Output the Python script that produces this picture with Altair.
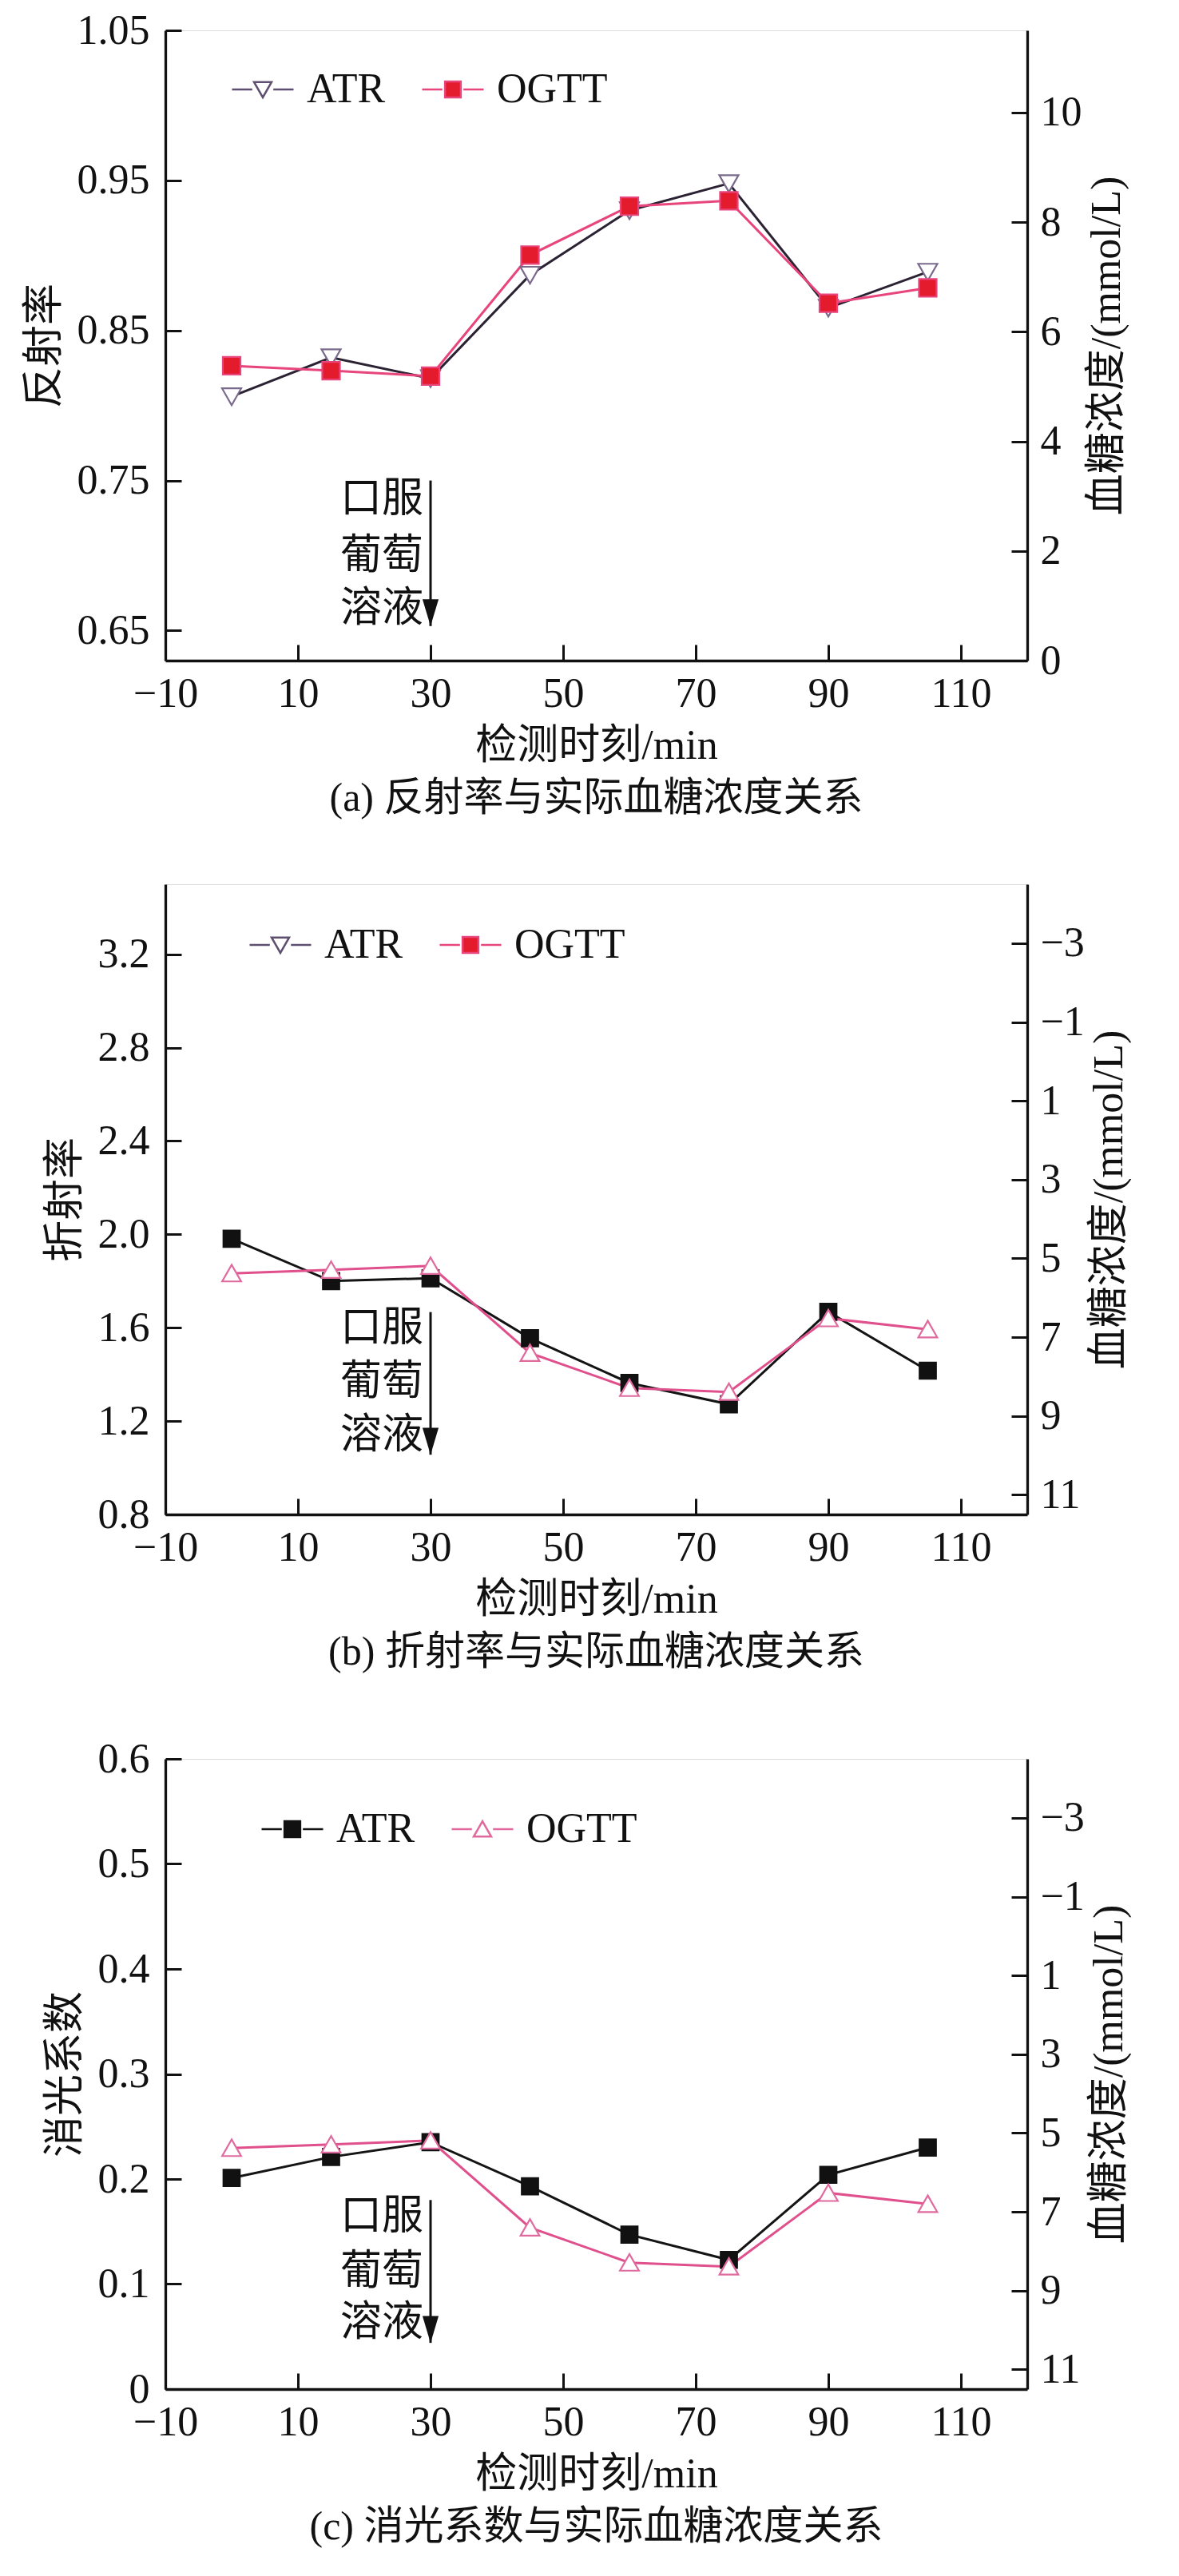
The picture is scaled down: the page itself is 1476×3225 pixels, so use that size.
import altair as alt
import pandas as pd

# ---------------- data ----------------
time = [0, 15, 30, 45, 60, 75, 90, 105]
atr_reflect = [0.806, 0.832, 0.818, 0.887, 0.930, 0.948, 0.865, 0.889]
atr_refract = [1.981, 1.800, 1.812, 1.555, 1.363, 1.272, 1.668, 1.416]
atr_extinct = [0.201, 0.221, 0.235, 0.193, 0.147, 0.123, 0.204, 0.230]
ogtt = [5.38, 5.29, 5.19, 7.40, 8.29, 8.39, 6.52, 6.80]

x_domain = [-10, 120]
x_ticks = [-10, 10, 30, 50, 70, 90, 110]

a_left_domain = [0.63, 1.05]
a_left_ticks = [0.65, 0.75, 0.85, 0.95, 1.05]
a_right_domain = [0, 11.5]
a_right_ticks = [0, 2, 4, 6, 8, 10]

b_left_domain = [0.8, 3.5]
b_left_ticks = [0.8, 1.2, 1.6, 2.0, 2.4, 2.8, 3.2]
c_left_domain = [0, 0.6]
c_left_ticks = [0, 0.1, 0.2, 0.3, 0.4, 0.5, 0.6]
bc_right_domain = [-4.5, 11.5]
bc_right_ticks = [-3, -1, 1, 3, 5, 7, 9, 11]

ann_text = ["口服", "葡萄", "溶液"]
a_ann_y = [0.7375, 0.700, 0.6646]
a_arrow = [0.750, 0.653]
b_ann_y = [1.596, 1.368, 1.140]
b_arrow = [1.667, 1.056]
c_ann_y = [0.164, 0.112, 0.063]
c_arrow = [0.180, 0.044]

series = ["ATR", "OGTT"]
captions = ["(a) 反射率与实际血糖浓度关系", "(b) 折射率与实际血糖浓度关系", "(c) 消光系数与实际血糖浓度关系"]
left_titles = ["反射率", "折射率", "消光系数"]
right_title = "血糖浓度/(mmol/L)"
x_title = "检测时刻/min"

# ---------------- style ----------------
FONT = "Liberation Serif, Noto Sans CJK SC"
W, H = 1079, 789
INK = "#111111"

TRI_DOWN = "M-1,-0.85L1,-0.85L0,0.9Z"
TRI_UP = "M-1,0.85L1,0.85L0,-0.9Z"
SQUARE = "M-0.9,-0.9H0.9V0.9H-0.9Z"
ARROW = "M0,0L-0.42,-1.4L0.42,-1.4Z"
DASHES = "M-3.5,0H-1.2M1.2,0H3.5"
LEG_TRI_DOWN = DASHES + TRI_DOWN
LEG_TRI_UP = DASHES + TRI_UP
LEG_SQUARE = DASHES + SQUARE

common_axis = dict(
    labelFont=FONT, labelFontSize=52, labelColor=INK,
    titleFont=FONT, titleFontSize=52, titleFontWeight="normal", titleColor=INK,
    domainColor=INK, domainWidth=3.3, tickColor=INK, tickWidth=3,
    tickSize=alt.ExprRef(expr="-20"), grid=False,
    labelFlush=False, labelOverlap=False,
)


def x_enc():
    return alt.X(
        "t:Q",
        scale=alt.Scale(domain=x_domain, nice=False, zero=False),
        axis=alt.Axis(values=x_ticks, format="d", title=x_title, orient="bottom",
                      labelPadding=36, titlePadding=14, **common_axis),
    )


def panel(left_vals, left_dom, left_ticks, left_fmt, left_title,
          right_dom, right_rev, right_ticks,
          lsty, rsty, legsty, ann_y, arrow, caption, leg_xy):
    df = pd.DataFrame({"t": time, "l": left_vals, "r": ogtt})
    lscale = alt.Scale(domain=left_dom, nice=False, zero=False)
    rscale = alt.Scale(domain=right_dom, nice=False, zero=False, reverse=right_rev)

    left_axis = alt.Axis(orient="left", values=left_ticks, format=left_fmt, title=left_title,
                         labelPadding=40, titlePadding=14, **common_axis)
    right_axis = alt.Axis(orient="right", values=right_ticks, format="d", title=right_title,
                          titleAngle=270, titleBaseline="top", labelPadding=36,
                          titlePadding=6, **common_axis)

    base = alt.Chart(df)
    l_line = base.mark_line(color=lsty["line"], strokeWidth=3).encode(
        x=x_enc(), y=alt.Y("l:Q", scale=lscale, axis=left_axis))
    r_line = base.mark_line(color=rsty["line"], strokeWidth=3).encode(
        x=x_enc(), y=alt.Y("r:Q", scale=rscale, axis=right_axis))
    l_pts = base.mark_point(shape=lsty["shape"], filled=True, fill=lsty["fill"],
                            stroke=lsty["stroke"], strokeWidth=2.2, size=lsty["size"],
                            opacity=1).encode(
        x=x_enc(), y=alt.Y("l:Q", scale=lscale, axis=None))
    r_pts = base.mark_point(shape=rsty["shape"], filled=True, fill=rsty["fill"],
                            stroke=rsty["stroke"], strokeWidth=2.2, size=rsty["size"],
                            opacity=1).encode(
        x=x_enc(), y=alt.Y("r:Q", scale=rscale, axis=None))

    ann_df = pd.DataFrame({"t": [30] * 3, "y": ann_y, "txt": ann_text})
    ann = alt.Chart(ann_df).mark_text(align="right", baseline="middle", font=FONT,
                                      fontSize=52, dx=-9, color=INK).encode(
        x=x_enc(), y=alt.Y("y:Q", scale=lscale, axis=None), text="txt:N")
    arr_df = pd.DataFrame({"t": [30], "y": [arrow[0]], "y2": [arrow[1]]})
    arr_line = alt.Chart(arr_df).mark_rule(color=INK, strokeWidth=3).encode(
        x=x_enc(), y=alt.Y("y:Q", scale=lscale, axis=None), y2="y2:Q")
    arr_head = alt.Chart(arr_df).mark_point(shape=ARROW, filled=True, fill=INK,
                                            strokeWidth=0, size=2304, opacity=1).encode(
        x=x_enc(), y=alt.Y("y2:Q", scale=lscale, axis=None))

    leg = alt.Legend(orient="none", legendX=leg_xy[0], legendY=leg_xy[1],
                     direction="horizontal", title=None, labelFont=FONT,
                     labelFontSize=52, labelColor=INK, symbolSize=484,
                     symbolStrokeWidth=2.5, labelOffset=29, columnPadding=40,
                     padding=0, labelLimit=500)
    leg_df = pd.DataFrame({"series": series})
    legend_layer = alt.Chart(leg_df).mark_point(filled=True, opacity=1).transform_filter(
        "false").encode(
        x=x_enc(), y=alt.Y("series:N", axis=None),
        shape=alt.Shape("series:N", scale=alt.Scale(domain=series, range=legsty["shape"]), legend=leg),
        fill=alt.Fill("series:N", scale=alt.Scale(domain=series, range=legsty["fill"]), legend=leg),
        stroke=alt.Stroke("series:N", scale=alt.Scale(domain=series, range=legsty["stroke"]), legend=leg),
    )

    return alt.layer(l_line, r_line, l_pts, r_pts, arr_line, arr_head, ann, legend_layer).resolve_scale(
        y="independent").properties(
        width=W, height=H,
        title=alt.TitleParams(caption, orient="bottom", font=FONT, fontSize=50,
                              fontWeight="normal", color=INK, offset=16, anchor="middle"))


style_a_left = dict(line="#2b2233", shape=TRI_DOWN, fill="white", stroke="#7a6a8c", size=576)
style_a_right = dict(line="#e8457d", shape=SQUARE, fill="#e31b2c", stroke="#e8457d", size=600)
style_bc_left = dict(line="#141414", shape=SQUARE, fill="#111111", stroke="#111111", size=520)
style_bc_right = dict(line="#e0508c", shape=TRI_UP, fill="white", stroke="#e06a9e", size=560)

leg_ab = dict(shape=[LEG_TRI_DOWN, LEG_SQUARE], fill=["white", "#e31b2c"], stroke=["#5e4e70", "#e8457d"])
leg_c = dict(shape=[LEG_SQUARE, LEG_TRI_UP], fill=["#111111", "white"], stroke=["#111111", "#e06a9e"])

pa = panel(atr_reflect, a_left_domain, a_left_ticks, ".2f", left_titles[0],
           a_right_domain, False, a_right_ticks, style_a_left, style_a_right, leg_ab,
           a_ann_y, a_arrow, captions[0], (96, 48))
pb = panel(atr_refract, b_left_domain, b_left_ticks, ".1f", left_titles[1],
           bc_right_domain, True, bc_right_ticks, style_bc_left, style_bc_right, leg_ab,
           b_ann_y, b_arrow, captions[1], (118, 50))
pc = panel(atr_extinct, c_left_domain, c_left_ticks, "~g", left_titles[2],
           bc_right_domain, True, bc_right_ticks, style_bc_left, style_bc_right, leg_c,
           c_ann_y, c_arrow, captions[2], (133, 62))

chart = alt.vconcat(pa, pb, pc, spacing=80).resolve_scale(
    shape="independent", fill="independent", stroke="independent"
).resolve_legend(
    shape="independent", fill="independent", stroke="independent"
).properties(
    padding={"left": 20, "top": 3, "right": 5, "bottom": 5}
).configure_view(stroke=INK, strokeWidth=3.3).configure(background="white")

chart.save("out.html", embed_options={"renderer": "svg", "actions": False})
